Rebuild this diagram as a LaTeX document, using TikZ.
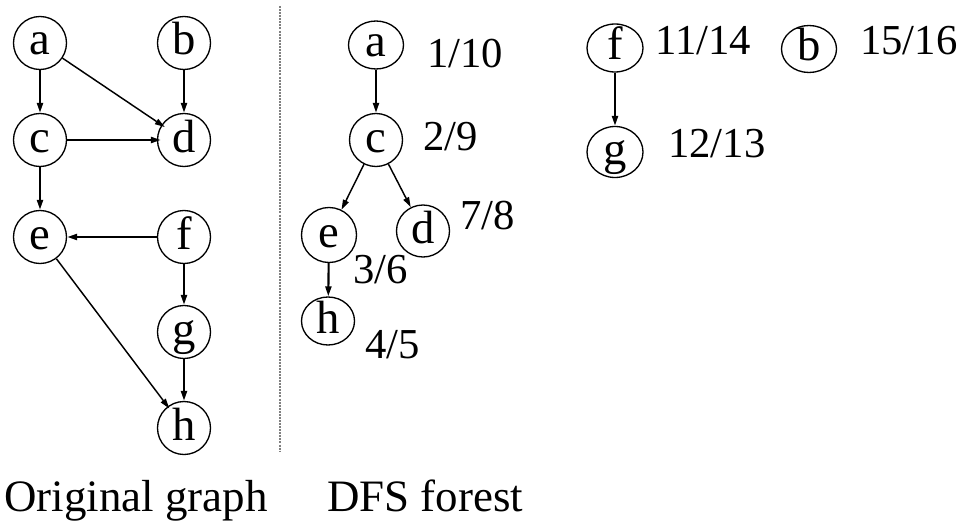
\documentclass[tikz,border=0pt]{standalone}
\usepackage{fontspec}
\setmainfont{Liberation Serif}
\usetikzlibrary{arrows.meta,shapes.geometric}
\begin{document}
\begin{tikzpicture}[x=0.75pt,y=-0.75pt,
  vtx/.style={draw,ellipse,line width=1pt,inner sep=0pt,font=\fontsize{35}{40}\selectfont,text height=18pt,text depth=0pt},
  lv/.style={vtx,minimum width=53*0.75pt,minimum height=53*0.75pt},
  arr/.style={-{Triangle[length=7.5pt,width=4.5pt]},line width=1.6pt},
  darr/.style={-{Triangle[length=7.5pt,width=4.5pt]},line width=1.1pt},
  lab/.style={anchor=base west,inner sep=0pt,font=\fontsize{32}{36}\selectfont},
  captext/.style={anchor=base west,inner sep=0pt,font=\fontsize{33.7}{38}\selectfont}]
\useasboundingbox (0,0) rectangle (969,524);
% original graph
\node[lv] (a) at (40,43) {a};
\node[lv] (b) at (184,43) {b};
\node[lv] (c) at (40,140) {c};
\node[lv] (d) at (184,140) {d};
\node[lv] (e) at (40,237) {e};
\node[lv] (f) at (184,237) {f};
\node[lv] (g) at (184,332) {g};
\node[lv] (h) at (184,428) {h};
\draw[arr] (a) -- (c);
\draw[arr] (b) -- (d);
\draw[darr,shorten >=-3pt] (a) -- (d);
\draw[arr,shorten >=-3pt] (c) -- (d);
\draw[arr] (c) -- (e);
\draw[arr] (f) -- (e);
\draw[arr] (f) -- (g);
\draw[arr] (g) -- (h);
\draw[darr,shorten >=-2pt] (e) -- (h);
% separator
\coordinate (s1) at (280,6);
\coordinate (s2) at (280,452);
\draw[gray,line width=1.2pt,dash pattern=on 1.5pt off 0.8pt] (s1) -- (s2);
% DFS forest
\node[vtx,minimum width=55*0.75pt,minimum height=48*0.75pt] (fa) at (376,45) {a};
\node[vtx,minimum width=53*0.75pt,minimum height=53*0.75pt] (fc) at (376,140) {c};
\node[vtx,minimum width=55*0.75pt,minimum height=55*0.75pt] (fe) at (329,235) {e};
\node[vtx,minimum width=53*0.75pt,minimum height=52*0.75pt] (fd) at (423,231) {d};
\node[vtx,minimum width=53*0.75pt,minimum height=48*0.75pt] (fh) at (328,321) {h};
\node[vtx,minimum width=56*0.75pt,minimum height=48*0.75pt] (ff) at (615,48) {f};
\node[vtx,minimum width=56*0.75pt,minimum height=51*0.75pt] (fg) at (615,152) {g};
\node[vtx,minimum width=55*0.75pt,minimum height=47*0.75pt] (fb) at (809,49) {b};
\draw[arr] (fa) -- (fc);
\draw[darr] (fc) -- (fe);
\draw[darr] (fc) -- (fd);
\draw[arr] (fe) -- (fh);
\draw[arr] (ff) -- (fg);
% labels
\node[lab] (l1) at (427,68) {1/10};
\node[lab] (l2) at (423,151) {2/9};
\node[lab] (l3) at (460,229) {7/8};
\node[lab] (l4) at (353,283) {3/6};
\node[lab] (l5) at (365,358) {4/5};
\node[lab] (l6) at (655,55) {11/14};
\node[lab] (l7) at (860,55) {15/16};
\node[lab] (l8) at (668,157) {12/13};
% captions
\node[captext] (c1) at (4,511) {Original graph};
\node[captext] (c2) at (327,511) {DFS forest};
\end{tikzpicture}
\end{document}
